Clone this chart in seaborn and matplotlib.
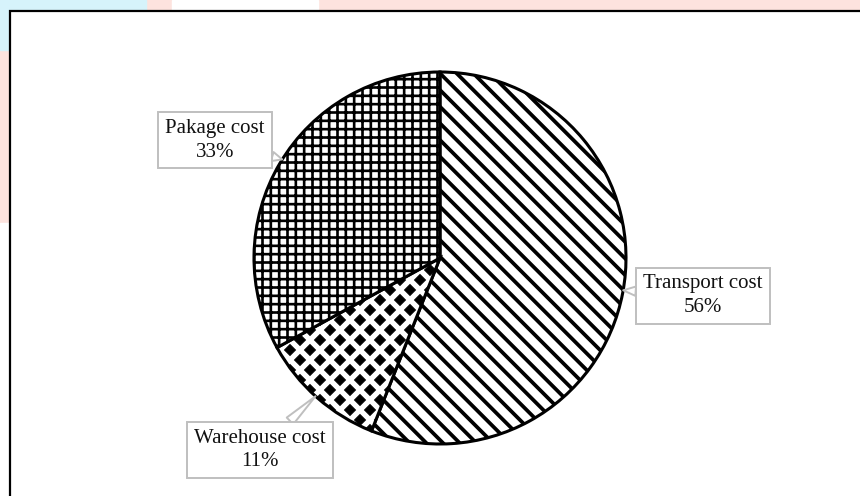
import numpy as np
import matplotlib
matplotlib.use('Agg')
import matplotlib.pyplot as plt
import matplotlib.hatch as mhatch
from matplotlib.path import Path
from matplotlib.patches import Rectangle
import seaborn as sns

# data
categories = ['Transport cost', 'Warehouse cost', 'Pakage cost']
shares = [56, 11, 33]
hatches = ['\\\\', '*', '++']
# where each callout points (degrees on the rim) and where its box sits
label_angles = [-10, -132, 148]
label_pos = [(1.414, -0.204), (-0.968, -1.032), (-1.21, 0.634)]


# filled diamonds on a staggered grid, takes the place of the '*' hatch
class DiamondHatch(mhatch.HatchPatternBase):
    def __init__(self, hatch, density):
        n = hatch.count('*') * 5
        self.centres = []
        if n:
            rows = 2 * n
            for i in range(rows + 1):
                if i % 2 == 0:
                    xs = np.linspace(0, 1, n + 1)
                else:
                    xs = np.linspace(0.5 / n, 1 - 0.5 / n, n)
                self.centres += [(x, i / rows) for x in xs]
        self.half = 0.054
        self.num_vertices = len(self.centres) * 5

    def set_vertices_and_codes(self, vertices, codes):
        h = self.half
        shape = np.array([[0, h], [-h, 0], [0, -h], [h, 0], [0, h]])
        for k, (x, y) in enumerate(self.centres):
            vertices[k * 5:(k + 1) * 5] = shape + (x, y)
            codes[k * 5] = Path.MOVETO
            codes[k * 5 + 1:k * 5 + 4] = Path.LINETO
            codes[k * 5 + 4] = Path.CLOSEPOLY


mhatch._hatch_types = [t for t in mhatch._hatch_types if t is not mhatch.Stars] + [DiamondHatch]

sns.set_theme(style='white')
plt.rcParams['font.family'] = ['Liberation Serif', 'DejaVu Serif']
plt.rcParams['hatch.linewidth'] = 2.6
plt.rcParams['hatch.color'] = 'black'

fig = plt.figure(figsize=(8.6, 4.96), dpi=100, facecolor='#fde3de')
# faint watermark colours peeking round the chart frame
fig.patches.append(Rectangle((0, 0.9), 0.17, 0.1, transform=fig.transFigure, color='#d6f3fb', zorder=-3))
fig.patches.append(Rectangle((0.2, 0.95), 0.17, 0.05, transform=fig.transFigure, color='#ffffff', zorder=-3))
fig.patches.append(Rectangle((0, 0), 0.02, 0.55, transform=fig.transFigure, color='#ffffff', zorder=-3))
fig.patches.append(Rectangle((10 / 860, -0.02), 1.0, 485 / 496 + 0.02, transform=fig.transFigure,
                             facecolor='white', edgecolor='black', lw=1.6, zorder=-2))

ax = fig.add_axes([0, 0, 1, 1])
ax.set_zorder(2)
ax.patch.set_alpha(0)
wedges, _ = ax.pie(shares, startangle=90, counterclock=False, radius=1,
                   wedgeprops=dict(facecolor='white', edgecolor='black', linewidth=2.2))
hatch_widths = [2.7, 0.8, 1.9]
for w, h, lw in zip(wedges, hatches, hatch_widths):
    w.set_hatch(h)
    if hasattr(w, 'set_hatch_linewidth'):
        w.set_hatch_linewidth(lw)

for name, share, ang, pos in zip(categories, shares, label_angles, label_pos):
    tip = (np.cos(np.radians(ang)), np.sin(np.radians(ang)))
    ax.annotate(f'{name}\n{share}%', xy=tip, xytext=pos, ha='center', va='center',
                fontsize=15, color='#111111', linespacing=1.35,
                bbox=dict(boxstyle='square,pad=0.33', fc='white', ec='#bfbfbf', lw=1.4),
                arrowprops=dict(arrowstyle='wedge,tail_width=0.45', fc='white', ec='#bfbfbf',
                                lw=1.4, shrinkA=0, shrinkB=0))

ax.set_xlim(-440 / 186, 420 / 186)
ax.set_ylim((258 - 496) / 186, 258 / 186)
ax.set_aspect('auto')
ax.axis('off')

fig.savefig('out.png', dpi=100, facecolor=fig.get_facecolor())
